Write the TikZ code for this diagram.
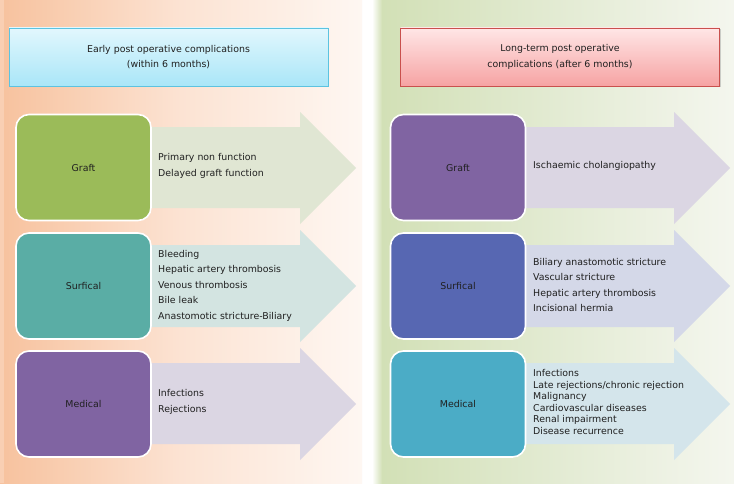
\documentclass[tikz,border=0pt]{standalone}
\usepackage{fontspec}
\setmainfont{DejaVu Sans}
\usetikzlibrary{shadows}
\definecolor{lbgA}{HTML}{F7C29E}
\definecolor{lbgB}{HTML}{FCE3D3}
\definecolor{lbgC}{HTML}{FEF7F2}
\definecolor{rbgA}{HTML}{D2E0B6}
\definecolor{rbgB}{HTML}{E3EBD3}
\definecolor{rbgC}{HTML}{F4F6EE}
\definecolor{cyTop}{HTML}{E2F7FD}
\definecolor{cyBot}{HTML}{A9E6F8}
\definecolor{cyLine}{HTML}{5CC3E0}
\definecolor{pkTop}{HTML}{FFE6E6}
\definecolor{pkBot}{HTML}{F6A3A3}
\definecolor{pkLine}{HTML}{C9504D}
\definecolor{cGreen}{HTML}{9BBB59}
\definecolor{cTeal}{HTML}{5AADA5}
\definecolor{cPurple}{HTML}{8064A2}
\definecolor{cBlue}{HTML}{5767B2}
\definecolor{cCyan}{HTML}{4BACC6}
\definecolor{aGreen}{HTML}{E0E6D3}
\definecolor{aTeal}{HTML}{D3E4E1}
\definecolor{aPurple}{HTML}{DBD6E3}
\definecolor{aBlue}{HTML}{D4D8E8}
\definecolor{aCyan}{HTML}{D4E5EB}
\definecolor{txt}{HTML}{202020}
\tikzset{
  catbox/.style={draw=white, line width=1.6pt, rounded corners=13pt,
    minimum width=135pt, minimum height=106pt, inner sep=0pt,
    text=txt, font=\fontsize{9.4}{11}\selectfont},
  itemtext/.style={anchor=west, align=left, inner sep=0pt, text=txt,
    font=\fontsize{9.4}{15.5}\selectfont},
  hdrbox/.style={draw, line width=0.7pt, minimum width=319pt, minimum height=58pt,
    inner sep=0pt, align=center, text=txt, font=\fontsize{9.4}{15.5}\selectfont,
    drop shadow={shadow xshift=1pt, shadow yshift=-1.5pt, opacity=0.35}},
}
% arrow: #1 x start, #2 body top, #3 body bottom, #4 head x, #5 head top, #6 head bottom, #7 tip x, #8 colour
\newcommand{\bigarrow}[8]{%
  \fill[#8] (#1,#2) -- (#4,#2) -- (#4,#5) -- (#7,{(#5+#6)/2}) -- (#4,#6) -- (#4,#3) -- (#1,#3) -- cycle;}
\begin{document}
\begin{tikzpicture}[x=1pt,y=-1pt]
\useasboundingbox (0,0) rectangle (734,487);
\fill[white] (0,0) rectangle (734,487);
% panels
\shade[left color=lbgA, right color=lbgC, middle color=lbgB] (0,0) rectangle (362,483);
\fill[lbgA!60!lbgB] (0,0) rectangle (4,483);
\shade[left color=rbgA, right color=rbgC, middle color=rbgB] (381,0) rectangle (734,483);
\shade[left color=white, right color=rbgA] (372,0) rectangle (382,483);
% headers
\node[hdrbox, draw=cyLine, top color=cyTop, bottom color=cyBot] (h1) at (168.5,57) {Early post operative complications\\(within 6 months)};
\node[hdrbox, draw=pkLine, top color=pkTop, bottom color=pkBot] (h2) at (560,57) {Long-term post operative\\complications (after 6 months)};
% left arrows
\bigarrow{90}{127}{208}{300}{112}{224}{356}{aGreen}
\bigarrow{90}{245}{327}{300}{230}{342}{356}{aTeal}
\bigarrow{90}{363}{444}{300}{348}{460}{356}{aPurple}
% right arrows
\bigarrow{460}{127}{208}{674}{112}{224}{730}{aPurple}
\bigarrow{460}{245}{327}{674}{230}{342}{730}{aBlue}
\bigarrow{460}{363}{444}{674}{348}{460}{730}{aCyan}
% left boxes
\node[catbox, fill=cGreen] (lg) at (83.5,167.5) {Graft};
\node[catbox, fill=cTeal] (ls) at (83.5,286) {Surfical};
\node[catbox, fill=cPurple] (lm) at (83.5,404) {Medical};
% right boxes
\node[catbox, fill=cPurple] (rg) at (458,167.5) {Graft};
\node[catbox, fill=cBlue] (rs) at (458,286) {Surfical};
\node[catbox, fill=cCyan] (rm) at (458,404) {Medical};
% left texts
\node[itemtext] (lgt) at (158,166) {Primary non function\\Delayed graft function};
\node[itemtext] (lst) at (158,285.5) {Bleeding\\Hepatic artery thrombosis\\Venous thrombosis\\Bile leak\\Anastomotic stricture-Biliary};
\node[itemtext] (lmt) at (158,402) {Infections\\Rejections};
% right texts
\node[itemtext] (rgt) at (533,166) {Ischaemic cholangiopathy};
\node[itemtext] (rst) at (533,285) {Biliary anastomotic stricture\\Vascular stricture\\Hepatic artery thrombosis\\Incisional hermia};
\node[itemtext, font=\fontsize{9.4}{11.6}\selectfont] (rmt) at (533,402) {Infections\\Late rejections/chronic rejection\\Malignancy\\Cardiovascular diseases\\Renal impairment\\Disease recurrence};
\end{tikzpicture}
\end{document}
